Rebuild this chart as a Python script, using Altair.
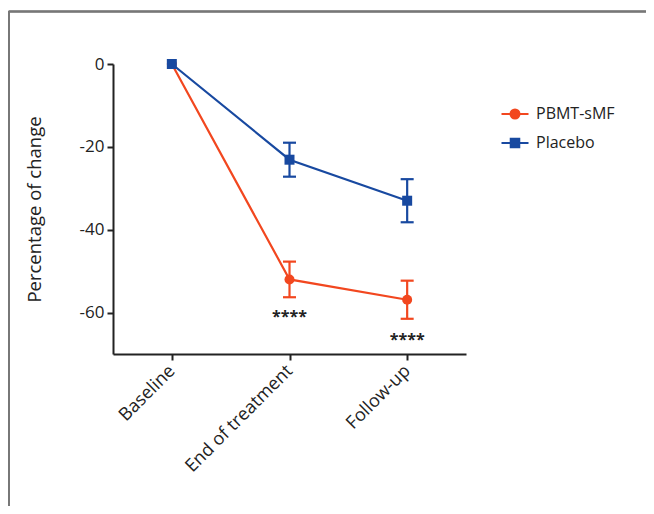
import altair as alt
import pandas as pd

categories = ["Baseline", "End of treatment", "Follow-up"]
groups = ["PBMT-sMF", "Placebo"]
pbmt_mean = [0.0, -52.0, -56.9]
pbmt_err = [0.0, 4.3, 4.6]
placebo_mean = [0.0, -23.1, -33.0]
placebo_err = [0.0, 4.1, 5.2]
star_labels = ["****", "****"]
star_times = ["End of treatment", "Follow-up"]
star_values = [-61.0, -66.5]
colors = ["#f2471f", "#1849a0"]
shapes = ["circle", "square"]

rows = []
for g, means, errs in [(groups[0], pbmt_mean, pbmt_err), (groups[1], placebo_mean, placebo_err)]:
    for t, m, e in zip(categories, means, errs):
        rows.append({"time": t, "group": g, "value": m, "lo": m - e, "hi": m + e, "err": e})
df = pd.DataFrame(rows)
stars_df = pd.DataFrame({"time": star_times, "value": star_values, "label": star_labels})

FONT = "Open Sans"
W, H = 353, 290
PAD_L, PAD_T = 105, 56
TOTAL_W, TOTAL_H = 638, 498

circle_path = "M-3,0H3M-1,0A1,1 0 1,0 1,0A1,1 0 1,0 -1,0Z"
square_path = "M-3,0H3M-0.95,-0.95H0.95V0.95H-0.95Z"

x_enc = alt.X("time:N", sort=categories, scale=alt.Scale(type="point", padding=0.5),
              axis=alt.Axis(title=None, labelAngle=-45, labelFontSize=18, labelFont=FONT,
                            labelColor="#222", labelAlign="right", labelBaseline="middle",
                            domainColor="#222", domainWidth=2,
                            tickColor="#222", tickWidth=2, tickSize=6, labelPadding=8))
y_scale = alt.Scale(domain=[-70, 0], nice=False, zero=False)
y_axis = alt.Axis(values=[0, -20, -40, -60], title="Percentage of change", titleFont=FONT,
                  titleFontSize=18.5, titleFontWeight="normal", titleColor="#222", titlePadding=35,
                  labelExpr="datum.value == 0 ? '0' : '-' + abs(datum.value)",
                  labelFontSize=17, labelFont=FONT, labelColor="#222", grid=False,
                  domainColor="#222", domainWidth=2, tickColor="#222", tickWidth=2, tickSize=6,
                  labelPadding=3)


def y_of(field):
    return alt.Y(field, scale=y_scale, axis=y_axis)


layers = []
frame_top = alt.Chart(df).mark_rule(color="#777", strokeWidth=1.5, clip=False).encode(
    x=alt.value(-PAD_L + 0.75), x2=alt.value(TOTAL_W - PAD_L), y=alt.value(-52.5))
frame_left = alt.Chart(df).mark_rule(color="#777", strokeWidth=1.5, clip=False).encode(
    x=alt.value(-PAD_L + 0.75), y=alt.value(-52.5), y2=alt.value(TOTAL_H - PAD_T))
layers += [frame_top, frame_left]

for g, c in zip(groups, colors):
    gsel = alt.Chart(df).transform_filter(alt.datum.group == g)
    layers.append(gsel.mark_line(strokeWidth=2.2, color=c).encode(x=x_enc, y=y_of("value:Q")))

for g, c in zip(groups, colors):
    esel = alt.Chart(df).transform_filter((alt.datum.group == g) & (alt.datum.err > 0))
    layers.append(esel.mark_rule(strokeWidth=2.2, color=c).encode(x=x_enc, y=y_of("lo:Q"), y2="hi:Q"))
    layers.append(esel.mark_tick(size=13, thickness=2.2, orient="horizontal", color=c, opacity=1).encode(
        x=x_enc, y=y_of("lo:Q")))
    layers.append(esel.mark_tick(size=13, thickness=2.2, orient="horizontal", color=c, opacity=1).encode(
        x=x_enc, y=y_of("hi:Q")))

for g, c, s in zip(groups, colors, shapes):
    gsel = alt.Chart(df).transform_filter(alt.datum.group == g)
    layers.append(gsel.mark_point(filled=True, opacity=1, size=100, color=c, shape=s).encode(
        x=x_enc, y=y_of("value:Q")))

legend = alt.Legend(title=None, orient="none", legendX=394, legendY=42, labelFont=FONT,
                    labelFontSize=16, labelColor="#222", symbolSize=81, labelOffset=13,
                    rowPadding=11, symbolStrokeWidth=2, symbolOpacity=1)
legend_layer = alt.Chart(df).transform_filter("datum.value > 1000").mark_point(
    filled=True, opacity=1, strokeWidth=2).encode(
    x=x_enc, y=y_of("value:Q"),
    fill=alt.Fill("group:N", scale=alt.Scale(domain=groups, range=colors), legend=legend),
    stroke=alt.Stroke("group:N", scale=alt.Scale(domain=groups, range=colors), legend=legend),
    shape=alt.Shape("group:N", scale=alt.Scale(domain=groups, range=[circle_path, square_path]),
                    legend=legend),
)
layers.append(legend_layer)

stars = alt.Chart(stars_df).mark_text(font=FONT, fontSize=16, fontWeight="bold", color="#222",
                                      baseline="middle").encode(
    x=x_enc, y=y_of("value:Q"), text="label:N")
layers.append(stars)

chart = alt.layer(*layers).properties(
    width=W, height=H,
    padding={"left": PAD_L, "top": PAD_T, "right": TOTAL_W - PAD_L - W, "bottom": TOTAL_H - PAD_T - H},
    autosize=alt.AutoSizeParams(type="none"),
).configure(background="white", view=alt.ViewConfig(stroke=None))

chart.save("out.html", embed_options={"renderer": "svg", "actions": False})
